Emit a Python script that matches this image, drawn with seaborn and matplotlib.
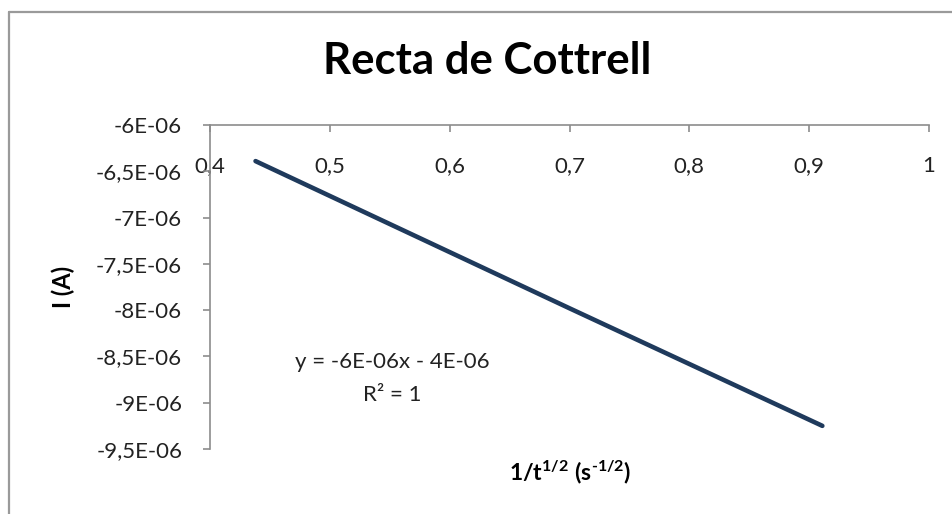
import matplotlib
matplotlib.use("Agg")
import matplotlib.pyplot as plt
from matplotlib.lines import Line2D
import seaborn as sns
import pandas as pd

# Cottrell plot data: inverse square root of time vs. current
inv_sqrt_t = [0.438, 0.700, 0.911]
current_a = [-6.39e-06, -7.98e-06, -9.25e-06]

x_ticks = [0.4, 0.5, 0.6, 0.7, 0.8, 0.9, 1.0]
x_tick_labels = ["0,4", "0,5", "0,6", "0,7", "0,8", "0,9", "1"]
y_ticks = [-9.5e-06, -9e-06, -8.5e-06, -8e-06, -7.5e-06, -7e-06, -6.5e-06, -6e-06]
y_tick_labels = ["-9,5E-06", "-9E-06", "-8,5E-06", "-8E-06",
                 "-7,5E-06", "-7E-06", "-6,5E-06", "-6E-06"]

title = "Recta de Cottrell"
x_label = r"$\mathbf{1/t^{1/2}\ (s^{\text{-}1/2})}$"
y_label = "I (A)"
fit_text = "y = -6E-06x - 4E-06"
r2_text = "R² = 1"

sns.set_theme(style="white")
plt.rcParams["font.family"] = ["Lato", "DejaVu Sans"]
plt.rcParams["mathtext.fontset"] = "custom"
plt.rcParams["mathtext.rm"] = "Lato:bold"
plt.rcParams["mathtext.bf"] = "Lato:bold"
plt.rcParams["mathtext.it"] = "Lato:bold"

W, H = 953, 514
fig = plt.figure(figsize=(W / 100, H / 100), dpi=100)
fig.patch.set_facecolor("white")

# chart-area frame (top and left edges)
frame_kw = dict(color="#9a9a9a", lw=1.6, transform=fig.transFigure)
fig.add_artist(Line2D([9 / W, 1.0], [1 - 12 / H, 1 - 12 / H], **frame_kw))
fig.add_artist(Line2D([9 / W, 9 / W], [0.0, 1 - 12 / H], **frame_kw))

left, right, top, bottom = 210, 929, 125, 449
ax = fig.add_axes([left / W, 1 - bottom / H, (right - left) / W, (bottom - top) / H])
ax.set_facecolor("none")

df = pd.DataFrame({"x": inv_sqrt_t, "y": current_a})
sns.lineplot(data=df, x="x", y="y", ax=ax, color="#1f3a5c", lw=3.3,
             solid_capstyle="round")

ax.set_xlim(0.4, 1.0)
ax.set_ylim(-9.5e-06, -6e-06)

for s in ["right", "bottom"]:
    ax.spines[s].set_visible(False)
for s in ["top", "left"]:
    ax.spines[s].set_color("#8c8c8c")
    ax.spines[s].set_linewidth(1.2)

ax.set_xticks(x_ticks)
ax.set_xticklabels(x_tick_labels)
ax.set_yticks(y_ticks)
ax.set_yticklabels(y_tick_labels)

ax.tick_params(axis="x", top=True, bottom=False, labeltop=True, labelbottom=False,
               direction="in", length=5, width=1.2, color="#8c8c8c",
               pad=-37, labelsize=16, labelcolor="#222222")
ax.tick_params(axis="y", left=True, direction="out", length=5, width=1.2,
               color="#8c8c8c", pad=15, labelsize=16, labelcolor="#222222")
ax.set_xlabel("")
ax.set_ylabel("")

fig.text(487 / W, 1 - 61 / H, title, ha="center", va="center",
         fontsize=31.5, fontweight="bold", color="black")
fig.text(63 / W, 1 - 287 / H, y_label, ha="center", va="center",
         rotation=90, fontsize=17, fontweight="bold", color="black")
fig.text(570 / W, 1 - 472 / H, x_label, ha="center", va="center",
         fontsize=16.5, color="black")
fig.text(392 / W, 1 - 362 / H, fit_text, ha="center", va="center",
         fontsize=16, color="#222222")
fig.text(392 / W, 1 - 395 / H, r2_text, ha="center", va="center",
         fontsize=16, color="#222222")

fig.savefig("out.png", dpi=100, facecolor="white")
